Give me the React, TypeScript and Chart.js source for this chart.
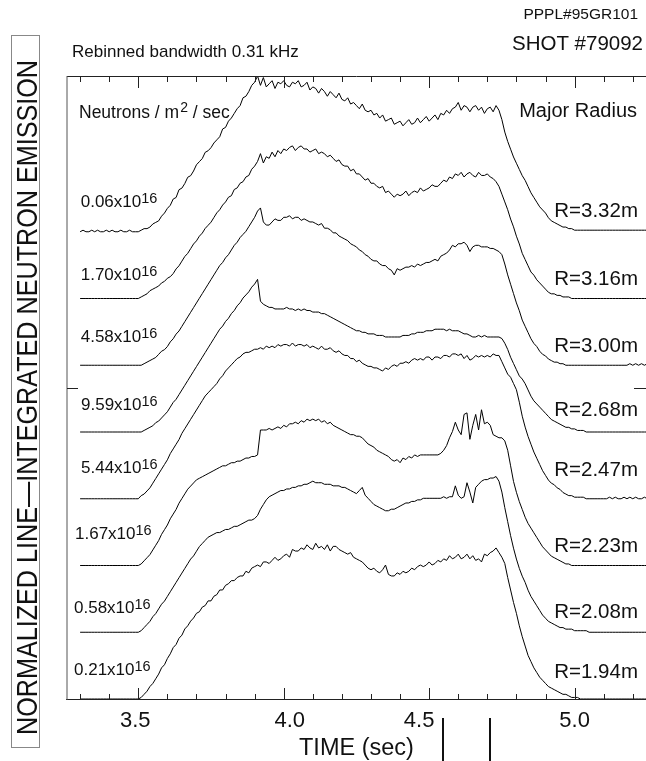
import React, { useEffect, useRef } from "react";
import { Chart, registerables } from "chart.js";

Chart.register(...registerables);

// ---------------- DATA ----------------
// sample times (sec)
const TIME = [
  3.30, 3.31, 3.32, 3.33, 3.34, 3.35, 3.36, 3.37, 3.38, 3.39,
  3.40, 3.41, 3.42, 3.43, 3.44, 3.45, 3.46, 3.47, 3.48, 3.49,
  3.50, 3.51, 3.52, 3.53, 3.54, 3.55, 3.56, 3.57, 3.58, 3.59,
  3.60, 3.61, 3.62, 3.63, 3.64, 3.65, 3.66, 3.67, 3.68, 3.69,
  3.70, 3.71, 3.72, 3.73, 3.74, 3.75, 3.76, 3.77, 3.78, 3.79,
  3.80, 3.81, 3.82, 3.83, 3.84, 3.85, 3.86, 3.87, 3.88, 3.89,
  3.90, 3.91, 3.92, 3.93, 3.94, 3.95, 3.96, 3.97, 3.98, 3.99,
  4.00, 4.01, 4.02, 4.03, 4.04, 4.05, 4.06, 4.07, 4.08, 4.09,
  4.10, 4.11, 4.12, 4.13, 4.14, 4.15, 4.16, 4.17, 4.18, 4.19,
  4.20, 4.21, 4.22, 4.23, 4.24, 4.25, 4.26, 4.27, 4.28, 4.29,
  4.30, 4.31, 4.32, 4.33, 4.34, 4.35, 4.36, 4.37, 4.38, 4.39,
  4.40, 4.41, 4.42, 4.43, 4.44, 4.45, 4.46, 4.47, 4.48, 4.49,
  4.50, 4.51, 4.52, 4.53, 4.54, 4.55, 4.56, 4.57, 4.58, 4.59,
  4.60, 4.61, 4.62, 4.63, 4.64, 4.65, 4.66, 4.67, 4.68, 4.69,
  4.70, 4.71, 4.72, 4.73, 4.74, 4.75, 4.76, 4.77, 4.78, 4.79,
  4.80, 4.81, 4.82, 4.83, 4.84, 4.85, 4.86, 4.87, 4.88, 4.89,
  4.90, 4.91, 4.92, 4.93, 4.94, 4.95, 4.96, 4.97, 4.98, 4.99,
  5.00, 5.01, 5.02, 5.03, 5.04, 5.05, 5.06, 5.07, 5.08, 5.09,
  5.10, 5.11, 5.12, 5.13, 5.14, 5.15, 5.16, 5.17, 5.18, 5.19,
  5.20, 5.21, 5.22, 5.23, 5.24, 5.25,
];

// normalized emission (% of peak), one array per chord, top to bottom
const R332 = [
  0, 1, 0, 0, 1, 0, 1, 0, 0, 1,
  0, 1, 0, 0, 1, 0, 0, 1, 0, 0,
  0, 1, 2, 2, 3, 5, 6, 7, 10, 12,
  15, 17, 21, 22, 27, 28, 31, 35, 36, 39,
  43, 45, 47, 51, 52, 54, 57, 59, 61, 66,
  67, 71, 73, 76, 79, 81, 86, 87, 90, 94,
  96, 100, 94, 99, 93, 95, 97, 92, 96, 95,
  97, 94, 93, 96, 95, 97, 93, 94, 96, 91,
  93, 92, 89, 92, 90, 87, 90, 88, 86, 89,
  85, 84, 86, 82, 83, 81, 79, 82, 78, 77,
  78, 75, 76, 73, 75, 71, 72, 73, 69, 70,
  71, 68, 70, 72, 69, 70, 73, 70, 72, 74,
  71, 73, 75, 72, 76, 75, 78, 76, 79, 80,
  83, 78, 81, 80, 77, 80, 81, 78, 80, 76,
  79, 80, 77, 81, 78, 72, 64, 58, 53, 48,
  44, 40, 36, 33, 29, 25, 22, 19, 16, 14,
  12, 9, 7, 6, 5, 4, 3, 3, 2, 2,
  1, 1, 1, 1, 1, 1, 1, 1, 1, 1,
  1, 1, 1, 1, 1, 1, 1, 1, 1, 1,
  1, 1, 1, 1, 1, 1,
];
const R316 = [
  0, 0, 0, 0, 0, 0, 0, 0, 0, 0,
  0, 0, 0, 0, 0, 0, 0, 0, 0, 0,
  0, 1, 2, 3, 5, 6, 7, 8, 10, 11,
  13, 14, 16, 19, 21, 24, 27, 29, 32, 35,
  37, 40, 42, 45, 47, 49, 52, 55, 57, 60,
  62, 65, 66, 70, 71, 74, 75, 78, 79, 83,
  85, 88, 93, 87, 91, 90, 94, 91, 95, 93,
  96, 95, 97, 98, 95, 97, 98, 96, 96, 94,
  95, 96, 93, 94, 93, 91, 92, 90, 88, 89,
  86, 85, 85, 82, 83, 80, 80, 78, 76, 77,
  74, 74, 72, 71, 72, 68, 69, 67, 65, 67,
  66, 67, 69, 66, 68, 69, 68, 71, 69, 70,
  71, 73, 72, 72, 74, 76, 75, 78, 77, 80,
  79, 81, 78, 80, 81, 79, 78, 81, 79, 79,
  80, 78, 77, 75, 72, 67, 62, 57, 51, 46,
  40, 35, 29, 25, 21, 17, 15, 12, 10, 8,
  6, 4, 3, 3, 2, 2, 1, 1, 1, 0,
  0, 0, 0, 0, 0, 0, 0, 0, 0, 0,
  0, 0, 0, 0, 0, 0, 0, 0, 0, 0,
  0, 0, 0, 0, 0, 0,
];
const R300 = [
  0, 0, 0, 0, 0, 0, 0, 0, 0, 0,
  0, 0, 0, 0, 0, 0, 0, 0, 0, 0,
  0, 0, 1, 2, 3, 4, 5, 7, 9, 10,
  12, 15, 17, 20, 22, 25, 28, 31, 34, 37,
  40, 43, 46, 49, 52, 55, 58, 61, 64, 66,
  69, 71, 74, 77, 79, 82, 84, 86, 89, 92,
  95, 99, 101, 92, 90, 90, 92, 94, 93, 93,
  95, 95, 96, 94, 95, 95, 93, 94, 93, 92,
  92, 91, 90, 91, 88, 88, 87, 85, 85, 83,
  82, 81, 80, 78, 77, 76, 74, 73, 71, 70,
  68, 67, 67, 65, 64, 64, 62, 61, 58, 62,
  61, 62, 63, 63, 64, 63, 65, 64, 65, 66,
  66, 67, 68, 67, 70, 71, 72, 74, 77, 76,
  78, 78, 79, 77, 73, 76, 77, 77, 76, 76,
  76, 75, 75, 74, 73, 71, 65, 58, 52, 46,
  40, 35, 29, 25, 21, 17, 14, 12, 9, 7,
  6, 4, 3, 2, 2, 1, 1, 0, 0, 0,
  0, 0, 0, 0, 0, 0, 0, 0, 0, 0,
  0, 0, 0, 0, 0, 0, 0, 0, 0, 1,
  0, 1, 0, 1, 0, 1,
];
const R268 = [
  0, 0, 0, 0, 0, 0, 0, 0, 0, 0,
  0, 0, 0, 0, 0, 0, 0, 0, 0, 0,
  0, 0, 1, 2, 3, 4, 6, 7, 9, 11,
  13, 16, 19, 21, 24, 27, 30, 33, 36, 39,
  42, 45, 48, 51, 54, 57, 60, 63, 66, 68,
  71, 73, 76, 78, 81, 83, 86, 88, 90, 93,
  95, 98, 84, 82, 81, 80, 80, 79, 79, 79,
  79, 80, 79, 79, 78, 79, 78, 79, 78, 78,
  77, 77, 77, 76, 76, 75, 74, 73, 72, 71,
  70, 69, 68, 67, 66, 65, 65, 64, 64, 63,
  63, 63, 62, 62, 62, 61, 61, 61, 61, 61,
  61, 62, 62, 62, 63, 63, 64, 64, 64, 65,
  65, 65, 66, 66, 66, 66, 65, 66, 65, 65,
  65, 64, 63, 63, 62, 61, 61, 62, 61, 62,
  61, 61, 61, 61, 61, 60, 57, 53, 48, 44,
  40, 36, 34, 31, 27, 23, 20, 18, 16, 14,
  12, 10, 8, 7, 6, 5, 4, 3, 3, 2,
  2, 1, 1, 1, 0, 0, 0, 0, 0, 0,
  0, 0, 0, 0, 0, 0, 0, 0, 0, 0,
  0, 0, 0, 0, 0, 0,
];
const R247 = [
  0, 0, 0, 0, 0, 0, 0, 0, 0, 0,
  0, 0, 0, 0, 0, 0, 0, 0, 0, 0,
  0, 2, 3, 5, 7, 10, 13, 16, 19, 22,
  25, 29, 32, 35, 38, 42, 45, 48, 51, 54,
  57, 60, 63, 66, 68, 70, 72, 74, 77, 79,
  82, 84, 86, 88, 90, 91, 93, 94, 94, 95,
  96, 96, 97, 96, 98, 97, 98, 97, 99, 98,
  99, 99, 98, 100, 98, 99, 99, 98, 99, 97,
  98, 97, 96, 98, 96, 96, 97, 95, 94, 95,
  93, 92, 92, 90, 90, 88, 89, 87, 86, 85,
  85, 84, 84, 83, 82, 84, 83, 85, 86, 85,
  87, 87, 88, 87, 89, 90, 89, 90, 89, 91,
  91, 89, 91, 91, 90, 92, 92, 91, 93, 93,
  92, 93, 90, 92, 89, 90, 92, 91, 92, 91,
  92, 91, 93, 92, 92, 88, 84, 80, 78, 74,
  70, 62, 53, 46, 40, 35, 30, 26, 22, 18,
  15, 12, 10, 9, 7, 6, 4, 3, 2, 2,
  1, 1, 1, 1, 0, 0, 0, 0, 0, 0,
  0, 0, 1, 0, 1, 0, 0, 1, 0, 1,
  0, 1, 0, 0, 1, 0,
];
const R223 = [
  0, 0, 0, 0, 0, 0, 0, 0, 0, 0,
  0, 0, 0, 0, 0, 0, 0, 0, 0, 0,
  0, 1, 3, 5, 7, 10, 13, 16, 20, 23,
  26, 30, 33, 36, 40, 43, 46, 49, 51, 53,
  55, 56, 57, 58, 59, 60, 61, 62, 63, 64,
  64, 65, 66, 66, 67, 67, 68, 69, 69, 70,
  70, 71, 87, 87, 87, 88, 87, 88, 89, 88,
  90, 89, 91, 91, 92, 91, 93, 92, 94, 93,
  94, 93, 94, 92, 93, 91, 92, 90, 89, 88,
  87, 86, 85, 84, 84, 83, 83, 82, 80, 78,
  77, 76, 74, 73, 72, 71, 70, 68, 67, 68,
  66, 69, 68, 70, 69, 71, 70, 71, 71, 71,
  71, 71, 71, 71, 72, 74, 77, 82, 86, 92,
  87, 84, 97, 98, 81, 90, 97, 87, 100, 91,
  92, 90, 84, 83, 82, 82, 80, 74, 64, 54,
  47, 41, 36, 31, 27, 24, 21, 18, 15, 12,
  10, 8, 6, 5, 4, 3, 2, 1, 1, 0,
  0, 0, 0, 0, 0, 0, 0, 0, 0, 0,
  0, 0, 0, 0, 0, 0, 0, 0, 0, 0,
  0, 0, 0, 0, 0, 0,
];
const R208 = [
  0, 0, 0, 0, 0, 0, 0, 0, 0, 0,
  0, 0, 0, 0, 0, 0, 0, 0, 0, 0,
  0, 1, 3, 5, 7, 10, 12, 15, 18, 20,
  23, 26, 29, 32, 35, 38, 41, 44, 47, 49,
  52, 55, 57, 59, 61, 62, 63, 64, 64, 65,
  66, 66, 67, 68, 68, 69, 70, 71, 72, 72,
  73, 75, 79, 82, 85, 87, 88, 89, 90, 91,
  91, 92, 92, 93, 93, 94, 94, 95, 95, 96,
  97, 96, 96, 96, 95, 95, 95, 94, 94, 94,
  93, 93, 92, 91, 90, 89, 91, 93, 88, 86,
  84, 82, 81, 80, 79, 78, 78, 79, 79, 80,
  81, 82, 83, 83, 84, 84, 85, 85, 86, 86,
  86, 86, 86, 86, 86, 87, 86, 87, 87, 94,
  88, 86, 87, 96, 90, 83, 93, 95, 97, 98,
  98, 99, 99, 100, 97, 90, 80, 71, 62, 54,
  47, 41, 36, 32, 27, 23, 20, 17, 14, 11,
  9, 7, 6, 5, 4, 3, 3, 2, 2, 2,
  1, 1, 1, 1, 1, 0, 0, 0, 0, 0,
  0, 0, 0, 0, 0, 0, 0, 0, 0, 0,
  0, 0, 0, 0, 0, 0,
];
const R194 = [
  0, 0, 0, 0, 0, 0, 0, 0, 0, 0,
  0, 0, 0, 0, 0, 0, 0, 0, 0, 0,
  0, 1, 3, 5, 8, 10, 13, 16, 20, 22,
  26, 29, 33, 35, 39, 41, 45, 47, 50, 52,
  55, 56, 59, 60, 63, 63, 66, 67, 70, 70,
  73, 74, 76, 76, 78, 79, 79, 82, 81, 84,
  85, 86, 85, 88, 88, 87, 89, 91, 89, 90,
  92, 93, 91, 96, 95, 95, 97, 96, 99, 97,
  96, 100, 97, 98, 96, 99, 95, 98, 98, 96,
  95, 94, 93, 94, 91, 90, 89, 88, 86, 84,
  83, 84, 82, 81, 83, 86, 80, 79, 79, 81,
  80, 82, 81, 82, 84, 83, 85, 86, 85, 86,
  88, 86, 87, 89, 88, 90, 89, 92, 90, 91,
  93, 90, 91, 93, 90, 92, 89, 90, 88, 93,
  92, 94, 95, 97, 94, 91, 87, 78, 70, 62,
  55, 47, 40, 34, 28, 24, 20, 17, 14, 12,
  10, 8, 7, 6, 5, 4, 3, 3, 2, 1,
  1, 1, 0, 0, 0, 0, 0, 0, 0, 0,
  0, 0, 0, 0, 0, 0, 0, 0, 0, 0,
  0, 0, 0, 0, 0, 0,
];

const TRACES = [R332, R316, R300, R268, R247, R223, R208, R194];
const RADIUS_LABELS = ["R=3.32m", "R=3.16m", "R=3.00m", "R=2.68m", "R=2.47m", "R=2.23m", "R=2.08m", "R=1.94m"];
const SCALE_MANTISSA = ["0.06", "1.70", "4.58", "9.59", "5.44", "1.67", "0.58", "0.21"];
const SCALE_EXP = "16";
const TRACE_STEP = 3 / 7; // vertical offset between chords (axis units)

const X_MAJOR = [3.5, 4.0, 4.5, 5.0];
const X_MAJOR_LABELS = ["3.5", "4.0", "4.5", "5.0"];
const X_MINOR = [3.3, 3.4, 3.6, 3.7, 3.8, 3.9, 4.1, 4.2, 4.3, 4.4, 4.6, 4.7, 4.8, 4.9, 5.1, 5.2];
const Y_TICKS = [2];
const MARKER_TIMES = [4.549, 4.709];

const X_MIN = 3.2549;
const X_MAX = 5.2455;
const Y_MIN = 0;
const Y_MAX = 4;

const Y_TITLE = "NORMALIZED LINE\u2014INTEGRATED NEUTRON EMISSION";
const X_TITLE = "TIME (sec)";

// ---------------- STYLE / LAYOUT ----------------
const W = 646;
const H = 761;
const FONT = '"Liberation Sans", Arial, Helvetica, sans-serif';
const TICK_LABEL_DX = [-3, 6, -10, 0];
const R_LABEL_RISE = [15, 13.5, 13.5, 16, 23, 14, 14, 21];
const SCALE_LABEL_RISE = [24.5, 18.5, 23.5, 22, 25.5, 27, 19, 24];
const SCALE_LABEL_X = [80.7, 80.7, 80.7, 81, 81, 75, 74, 74];

const overlayPlugin = {
  id: "overlay",
  afterDraw(chart: any) {
    const ctx: CanvasRenderingContext2D = chart.ctx;
    const xs = chart.scales.x;
    const ys = chart.scales.y;
    const { left, right, top, bottom } = chart.chartArea;
    ctx.save();

    // frame
    ctx.strokeStyle = "#222";
    ctx.lineWidth = 1;
    ctx.beginPath();
    ctx.moveTo(left, top + 0.5);
    ctx.lineTo(right, top + 0.5);
    ctx.moveTo(left - 1, bottom + 0.5);
    ctx.lineTo(right, bottom + 0.5);
    ctx.stroke();
    ctx.strokeStyle = "#555";
    ctx.beginPath();
    ctx.moveTo(left, top);
    ctx.lineTo(left, bottom + 1);
    ctx.stroke();

    // x ticks (inward, top and bottom)
    ctx.strokeStyle = "#222";
    ctx.beginPath();
    const tick = (t: number, len: number) => {
      const x = Math.round(xs.getPixelForValue(t)) + 0.5;
      ctx.moveTo(x, top);
      ctx.lineTo(x, top + len);
      ctx.moveTo(x, bottom + 1);
      ctx.lineTo(x, bottom + 1 - len);
    };
    X_MINOR.forEach((t) => tick(t, 6));
    X_MAJOR.forEach((t) => tick(t, 12));
    // y ticks (inward, left and right)
    Y_TICKS.forEach((v) => {
      const y = Math.round(ys.getPixelForValue(v)) + 0.5;
      ctx.moveTo(left, y);
      ctx.lineTo(left + 11, y);
      ctx.moveTo(right - 12, y);
      ctx.lineTo(right, y);
    });
    ctx.stroke();

    // x tick labels
    ctx.fillStyle = "#111";
    ctx.font = `22px ${FONT}`;
    ctx.textAlign = "center";
    ctx.textBaseline = "alphabetic";
    X_MAJOR.forEach((t, i) => {
      ctx.fillText(X_MAJOR_LABELS[i], xs.getPixelForValue(t) + TICK_LABEL_DX[i], 727);
    });
    ctx.font = `23.5px ${FONT}`;
    ctx.textAlign = "left";
    ctx.fillText(X_TITLE, 299, 755);

    // marker lines below axis
    ctx.strokeStyle = "#111";
    ctx.lineWidth = 2;
    ctx.beginPath();
    MARKER_TIMES.forEach((t) => {
      const x = Math.round(xs.getPixelForValue(t));
      ctx.moveTo(x, 718);
      ctx.lineTo(x, H);
    });
    ctx.stroke();

    // header texts
    ctx.textAlign = "right";
    ctx.font = `15.5px ${FONT}`;
    ctx.fillText("PPPL#95GR101", 638, 19);
    ctx.font = `20.5px ${FONT}`;
    ctx.fillText("SHOT #79092", 643, 50);
    ctx.textAlign = "left";
    ctx.font = `17px ${FONT}`;
    ctx.fillText("Rebinned bandwidth 0.31 kHz", 72, 57);

    // Neutrons / m^2 / sec
    let x = 79;
    ctx.font = `17.5px ${FONT}`;
    ctx.fillText("Neutrons / m", x, 118);
    x += ctx.measureText("Neutrons / m").width + 1;
    ctx.font = `14px ${FONT}`;
    ctx.fillText("2", x, 111.5);
    x += ctx.measureText("2").width;
    ctx.font = `17.5px ${FONT}`;
    ctx.fillText(" / sec", x, 118);

    // Major Radius
    ctx.textAlign = "right";
    ctx.font = `20px ${FONT}`;
    ctx.fillText("Major Radius", 637, 117);

    // per-trace labels
    TRACES.forEach((_, i) => {
      const base = ys.getPixelForValue((TRACES.length - 1 - i) * TRACE_STEP);
      ctx.textAlign = "right";
      ctx.font = `20.5px ${FONT}`;
      ctx.fillText(RADIUS_LABELS[i], 638, base - R_LABEL_RISE[i]);
      ctx.textAlign = "left";
      const ly = base - SCALE_LABEL_RISE[i];
      const main = SCALE_MANTISSA[i] + "x10";
      ctx.font = `17px ${FONT}`;
      ctx.fillText(main, SCALE_LABEL_X[i], ly);
      const mw = ctx.measureText(main).width;
      ctx.font = `14.5px ${FONT}`;
      ctx.fillText(SCALE_EXP, SCALE_LABEL_X[i] + mw, ly - 4);
    });

    // vertical title box
    ctx.strokeStyle = "#888";
    ctx.lineWidth = 1;
    ctx.strokeRect(11.5, 35.5, 28, 712);
    ctx.font = `29px ${FONT}`;
    const tw = ctx.measureText(Y_TITLE).width;
    ctx.translate(36.5, 397.5);
    ctx.rotate(-Math.PI / 2);
    ctx.scale(675 / tw, 1);
    ctx.textAlign = "center";
    ctx.textBaseline = "alphabetic";
    ctx.fillText(Y_TITLE, 0, 0);

    ctx.restore();
  },
};

export default function App() {
  const canvasRef = useRef<HTMLCanvasElement | null>(null);

  useEffect(() => {
    const canvas = canvasRef.current;
    if (!canvas) return;
    const n = TRACES.length;
    const datasets = TRACES.map((vals, i) => ({
      label: RADIUS_LABELS[i],
      data: vals.map((v, j) => ({ x: TIME[j], y: (n - 1 - i) * TRACE_STEP + v / 100 })),
      borderColor: "#000",
      borderWidth: 1,
      borderJoinStyle: "round" as const,
      pointRadius: 0,
      fill: false,
      tension: 0,
    }));
    const chart = new Chart(canvas, {
      type: "line",
      data: { datasets },
      options: {
        animation: false,
        responsive: false,
        maintainAspectRatio: false,
        devicePixelRatio: 1,
        events: [],
        layout: { padding: { left: 67, top: 76, right: 0, bottom: H - 699 } },
        plugins: { legend: { display: false }, tooltip: { enabled: false } },
        scales: {
          x: { type: "linear", min: X_MIN, max: X_MAX, display: false },
          y: { type: "linear", min: Y_MIN, max: Y_MAX, display: false },
        },
      },
      plugins: [overlayPlugin],
    });
    return () => chart.destroy();
  }, []);

  return (
    <div
      style={{
        position: "fixed",
        left: 0,
        top: 0,
        width: W,
        height: H,
        overflow: "hidden",
        background: "#fff",
      }}
    >
      <canvas ref={canvasRef} width={W} height={H} style={{ display: "block", width: W, height: H }} />
    </div>
  );
}
